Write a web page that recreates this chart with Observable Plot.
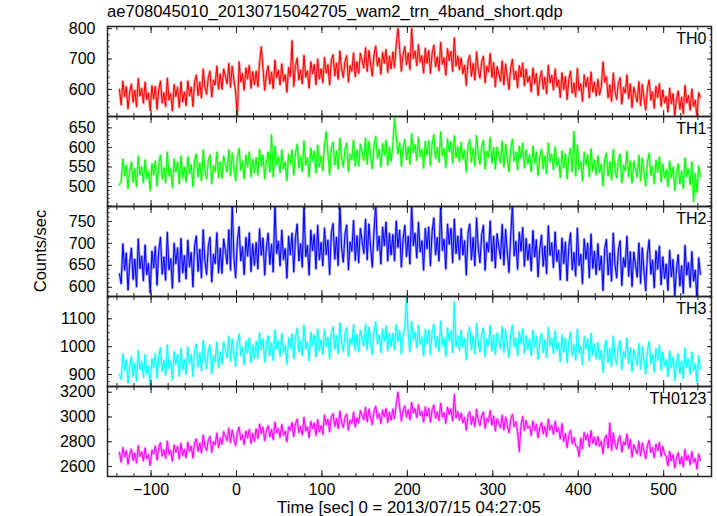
<!DOCTYPE html>
<html><head><meta charset="utf-8">
<script src="https://cdn.jsdelivr.net/npm/d3@7"></script>
<script src="https://cdn.jsdelivr.net/npm/@observablehq/plot@0.6"></script>
<style>
body{margin:0;background:#fff;}
#chart{position:relative;width:717px;height:516px;background:#fff;font-family:"Liberation Sans",Arial,Helvetica,sans-serif;color:#000;overflow:hidden;}
.title{position:absolute;left:107px;top:2px;font-size:16.6px;line-height:20px;white-space:nowrap;}
.xlabel{position:absolute;left:107px;width:604px;top:498px;text-align:center;font-size:16.8px;line-height:20px;white-space:nowrap;}
.ylabel{position:absolute;left:40px;top:251px;transform:translate(-50%,-50%) rotate(-90deg);font-size:16.5px;white-space:nowrap;}
.panel{position:absolute;left:0;}
</style></head><body>
<div id="chart">
  <div class="title">ae708045010_20130715042705_wam2_trn_4band_short.qdp</div>
  <div class="ylabel">Counts/sec</div>
  <div class="xlabel">Time [sec] 0 = 2013/07/15 04:27:05</div>
</div>
<script>
// ---- data: 2-s samples, t = -137 ... 543 (20 values = 40 s per row) ----
const tStart = -137, tStep = 2;
const bandNames = ["TH0", "TH1", "TH2", "TH3", "TH0123"];
const bandColors = ["#ff0000", "#00ff00", "#0000ff", "#00ffff", "#ff00ff"];

const th0 = [
 600,549,627,576,609,537,591,618,558,597,543,636,579,603,555,624,567,588,531,612,
 568,610,535,601,628,556,589,544,637,565,586,529,616,577,607,541,625,559,592,547,
 628,579,608,544,627,647,580,624,572,667,609,584,640,660,575,631,615,677,601,651,
 601,667,643,619,685,607,676,631,592,510,691,625,652,598,670,634,679,604,658,616,
 660,609,687,740,669,597,651,678,618,657,603,696,639,663,615,684,627,648,591,672,
 643,760,610,676,703,631,664,619,712,640,661,604,691,652,682,616,700,634,667,622,
 705,654,681,615,696,714,645,687,633,726,666,639,693,711,624,678,660,720,642,690,
 653,719,695,671,737,659,728,683,644,716,743,677,704,650,722,686,731,656,710,668,
 723,672,750,800,732,660,714,741,681,720,666,800,702,726,678,747,690,711,654,735,
 686,728,653,719,746,674,707,662,755,683,704,647,734,695,725,659,770,677,710,665,
 703,652,679,613,694,712,643,685,631,724,664,637,691,709,622,676,658,718,640,688,
 609,675,651,627,693,615,684,639,600,672,699,633,660,606,678,642,687,612,666,624,
 643,592,670,619,652,580,634,661,601,640,586,679,622,646,598,667,610,631,574,655,
 600,642,567,633,660,588,621,576,669,597,618,561,648,609,639,573,657,591,624,579,
 633,582,609,690,624,642,573,615,561,654,594,567,621,639,552,606,588,648,570,618,
 541,607,583,559,625,547,616,571,532,604,631,565,592,538,610,574,619,544,598,556,
 577,526,604,553,586,514,568,595,535,574,520,613,556,580,532,601,544,565,510,589,
 575];
const th1 = [
 505,512,570,527,555,495,540,563,512,545,500,578,530,550,510,568,520,538,490,558,
 530,565,502,558,580,520,548,510,588,527,545,497,570,537,563,507,578,522,550,512,
 576,533,556,500,568,583,525,561,515,593,543,520,566,581,508,553,538,588,523,563,
 522,578,558,537,593,527,585,547,515,575,598,542,565,520,580,550,588,525,570,535,
 573,530,595,552,580,520,565,588,537,632,525,603,555,575,535,593,545,563,515,583,
 558,593,530,586,608,548,576,538,616,555,573,525,598,565,591,535,606,550,578,540,
 606,640,586,530,598,613,555,591,545,623,573,550,596,611,538,583,568,618,553,593,
 552,608,588,567,623,557,615,577,545,605,628,572,595,550,610,580,618,555,600,565,
 605,676,627,584,612,552,597,620,569,602,557,635,587,607,567,625,577,595,547,615,
 582,617,554,610,632,572,600,562,640,579,597,549,622,589,615,559,630,574,602,564,
 613,570,593,537,605,620,562,598,552,630,580,557,603,618,545,590,575,625,560,600,
 545,601,581,560,616,550,608,570,538,598,621,565,588,543,603,573,611,548,593,558,
 581,538,603,560,588,528,573,596,545,578,533,611,563,583,543,601,553,571,523,591,
 548,583,520,576,598,538,640,528,606,545,563,515,588,555,581,525,596,540,568,530,
 578,535,558,502,570,585,527,563,517,595,545,522,568,583,510,555,540,590,525,565,
 509,565,545,524,580,514,572,534,502,562,585,529,552,507,567,537,575,512,557,522,
 543,500,565,522,550,490,535,558,507,540,495,573,525,545,505,563,462,533,485,553,
 525];
const th2 = [
 630,608,699,639,678,594,657,689,618,664,601,710,643,671,615,696,629,654,587,682,
 644,693,605,683,714,630,669,616,725,640,665,598,700,654,690,612,711,633,672,619,
 707,647,679,601,696,717,636,686,622,731,661,629,693,714,612,675,654,724,633,689,
 632,710,682,653,731,639,790,667,622,706,738,660,692,629,713,671,724,636,699,650,
 702,642,733,673,712,628,691,723,652,698,635,790,677,705,649,730,663,688,621,716,
 674,723,635,713,744,660,699,646,790,670,695,628,730,684,720,642,741,663,702,649,
 735,675,707,629,724,745,664,714,650,790,689,657,721,742,640,703,682,752,661,717,
 656,734,706,677,755,663,744,691,646,730,790,684,716,653,737,695,748,660,723,674,
 720,660,751,691,730,646,709,741,670,716,653,790,695,723,667,748,681,706,639,734,
 688,737,649,727,758,674,713,660,790,684,709,642,744,698,734,656,755,677,716,663,
 734,674,706,628,723,744,663,713,649,758,688,656,720,741,639,702,681,751,660,716,
 644,722,694,665,743,651,732,679,634,718,790,672,704,641,725,683,736,648,711,662,
 698,638,729,669,708,624,687,719,648,694,631,740,673,701,645,726,659,684,617,712,
 654,703,615,693,724,640,679,626,735,650,675,608,710,664,700,622,721,643,682,629,
 699,639,671,593,688,709,628,678,614,723,653,621,685,706,604,667,646,716,625,681,
 602,680,652,623,701,609,690,637,592,676,708,630,662,599,683,641,694,606,669,620,
 653,593,684,624,663,579,642,674,603,649,586,695,628,656,600,681,614,639,572,667,
 630];
const th3 = [
 900,883,974,914,953,869,932,964,893,939,876,985,918,946,890,971,904,929,862,957,
 926,975,887,965,996,912,951,898,1007,922,947,880,982,936,972,894,993,915,954,901,
 999,939,971,893,988,1009,928,978,914,1023,953,921,985,1006,904,967,946,1016,925,981,
 939,1017,989,960,1038,946,1027,974,929,1013,1045,967,999,936,1020,978,1031,943,1006,957,
 1018,958,1049,989,1028,944,1007,1039,968,1014,951,1060,993,1021,965,1046,979,1004,937,1032,
 996,1045,957,1035,1066,982,1021,968,1077,992,1017,950,1052,1006,1042,964,1063,985,1024,971,
 1061,1001,1033,955,1050,1071,990,1040,976,1085,1015,983,1047,1068,966,1029,1008,1078,987,1043,
 982,1060,1032,1003,1081,989,1070,1017,972,1056,1088,1010,1042,979,1063,1021,1074,986,1049,1000,
 1048,988,1079,1019,1058,974,1037,1069,1180,1044,981,1090,1023,1051,995,1076,1009,1034,967,1062,
 1011,1060,972,1050,1081,997,1036,983,1092,1007,1032,965,1067,1021,1057,979,1160,1000,1039,986,
 1059,999,1031,953,1048,1069,988,1038,974,1083,1013,981,1045,1066,964,1027,1006,1076,985,1041,
 972,1050,1022,993,1071,979,1060,1007,962,1046,1078,1000,1032,969,1053,1011,1064,976,1039,990,
 1028,968,1059,999,1038,954,1017,1049,978,1024,961,1070,1003,1031,975,1056,989,1014,947,1042,
 981,1030,942,1020,1051,967,1006,953,1062,977,1002,935,1037,991,1027,949,1048,970,1009,956,
 1014,954,986,908,1003,1024,943,993,929,1038,968,936,1000,1021,919,982,961,1031,940,996,
 912,990,962,933,1011,919,1000,947,902,986,1018,940,972,909,993,951,1004,916,979,930,
 953,893,984,924,963,879,942,974,903,949,886,995,928,956,900,981,914,939,872,967,
 920];
const th0123 = [
 2713,2636,2753,2676,2726,2618,2699,2740,2649,2708,2627,2767,2681,2717,2645,2749,2663,2695,2609,2731,
 2702,2765,2652,2752,2792,2684,2734,2666,2806,2697,2729,2643,2774,2715,2761,2661,2788,2688,2738,2670,
 2795,2721,2765,2668,2793,2823,2722,2789,2710,2853,2766,2728,2813,2843,2715,2799,2775,2868,2754,2829,
 2781,2881,2845,2808,2908,2790,2894,2826,2768,2876,2917,2817,2858,2777,2885,2831,2899,2786,2867,2804,
 2903,2826,2943,2866,2916,2808,2889,2930,2839,2898,2817,2957,2871,2907,2835,2939,2853,2885,2799,2921,
 2892,2955,2842,2942,2982,2874,2924,2856,2996,2887,2919,2833,2964,2905,2951,2851,2978,2878,2928,2860,
 3015,2938,2979,2879,3001,3028,2924,2988,2906,3046,2956,2915,2997,3024,2893,2974,2947,3037,2920,2992,
 2951,3051,3015,2978,3078,2960,3064,2996,2938,3046,3087,2987,3028,2947,3055,3001,3069,2956,3037,2974,
 3063,2986,3103,3200,3076,2968,3049,3090,2999,3058,2977,3117,3031,3067,2995,3099,3013,3045,2959,3081,
 3007,3070,2957,3057,3097,2989,3039,2971,3111,3002,3034,2948,3079,3020,3066,2966,3180,2993,3043,2975,
 3030,2953,2994,2894,3016,3043,2939,3003,2921,3061,2971,2930,3012,3039,2908,2989,2962,3052,2935,3007,
 2886,2986,2950,2913,3013,2895,2999,2931,2873,2981,3022,2922,2963,2882,2720,2936,3004,2891,2972,2909,
 2928,2851,2968,2891,2941,2833,2914,2955,2864,2923,2842,2982,2896,2932,2860,2964,2878,2910,2824,2946,
 2802,2865,2752,2852,2892,2784,2834,2766,2760,2680,2829,2743,2874,2815,2861,2761,2888,2788,2838,2770,
 2840,2763,2804,2704,2826,2853,2749,2950,2731,2871,2781,2740,2822,2849,2718,2799,2772,2862,2745,2817,
 2676,2776,2740,2703,2803,2685,2789,2721,2663,2771,2812,2712,2753,2672,2780,2726,2794,2681,2762,2699,
 2683,2606,2723,2646,2696,2588,2669,2710,2619,2678,2597,2737,2651,2687,2615,2719,2633,2665,2579,2701,
 2650];

// axis ticks / labels
const xDomain = [-151, 556];
const xMajorTicks = [-100, 0, 100, 200, 300, 400, 500];
const xMinorTicks = d3.range(-140, 556, 20);
const yDomains = [[511, 807], [449, 679], [579, 784], [857, 1180], [2519, 3246]];
const yTickLabels = [[600, 700, 800], [500, 550, 600, 650], [600, 650, 700, 750], [900, 1000, 1100], [2600, 2800, 3000, 3200]];
const yMajorSteps = [100, 50, 50, 100, 200];
const yMinorSteps = [20, 10, 10, 25, 100];

const series = [th0, th1, th2, th3, th0123];
const FONT = '"Liberation Sans", Arial, Helvetica, sans-serif';
const chart = document.getElementById("chart");
const panelTop = 26, panelH = 90, mL = 107, mR = 6;

series.forEach((vals, i) => {
  const data = vals.map((v, j) => ({t: tStart + j * tStep, v}));
  const [y0, y1] = yDomains[i];
  const majY = d3.range(Math.ceil(y0 / yMajorSteps[i]) * yMajorSteps[i], y1 + 0.001, yMajorSteps[i]);
  const minY = d3.range(Math.ceil(y0 / yMinorSteps[i]) * yMinorSteps[i], y1 + 0.001, yMinorSteps[i]);
  const last = i === series.length - 1;
  const col = bandColors[i];
  const blank = () => "";
  const marks = [
    Plot.lineY(data, {x: "t", y: "v", stroke: col, strokeWidth: 2.6, strokeOpacity: 0.4, clip: true}),
    Plot.lineY(data, {x: "t", y: "v", stroke: col, strokeWidth: 1, clip: true}),
    // inward ticks
    Plot.axisX({anchor: "bottom", ticks: xMinorTicks, tickSize: 3, dy: -3, tickFormat: blank, label: null, stroke: "#222"}),
    Plot.axisX({anchor: "bottom", ticks: xMajorTicks, tickSize: 6, dy: -6, tickFormat: blank, label: null, stroke: "#222"}),
    Plot.axisX({anchor: "top", ticks: xMinorTicks, tickSize: 3, dy: 3, tickFormat: blank, label: null, stroke: "#222"}),
    Plot.axisX({anchor: "top", ticks: xMajorTicks, tickSize: 6, dy: 6, tickFormat: blank, label: null, stroke: "#222"}),
    Plot.axisY({anchor: "left", ticks: minY, tickSize: 2.5, dx: 2.5, tickFormat: blank, label: null, stroke: "#222"}),
    Plot.axisY({anchor: "left", ticks: majY, tickSize: 5, dx: 5, tickFormat: blank, label: null, stroke: "#222"}),
    Plot.axisY({anchor: "right", ticks: minY, tickSize: 2.5, dx: -2.5, tickFormat: blank, label: null, stroke: "#222"}),
    Plot.axisY({anchor: "right", ticks: majY, tickSize: 5, dx: -5, tickFormat: blank, label: null, stroke: "#222"}),
    // tick labels
    Plot.axisY({anchor: "left", ticks: yTickLabels[i], tickSize: 0, tickPadding: 12, label: null, fontSize: 16, tickFormat: d => String(d)}),
    Plot.frame({stroke: "#222", strokeWidth: 1.5}),
    Plot.text([bandNames[i]], {frameAnchor: "top-right", textAnchor: "end", lineAnchor: "top", dx: -5, dy: 6, fontSize: 16, fill: "#000"})
  ];
  if (last) {
    marks.push(Plot.axisX({anchor: "bottom", ticks: xMajorTicks, tickSize: 0, tickPadding: 7, label: null, fontSize: 16}));
  }
  const svg = Plot.plot({
    width: 717,
    height: panelH + (last ? 40 : 0),
    marginLeft: mL, marginRight: mR, marginTop: 0, marginBottom: last ? 40 : 0,
    x: {domain: xDomain, axis: null},
    y: {domain: yDomains[i], axis: null},
    style: {overflow: "visible", background: "transparent", fontFamily: FONT, fontSize: "16px", color: "#000"},
    marks
  });
  svg.classList.add("panel");
  svg.style.top = (panelTop + i * panelH) + "px";
  svg.style.left = "0px";
  svg.style.position = "absolute";
  chart.appendChild(svg);
});
</script>
</body></html>
